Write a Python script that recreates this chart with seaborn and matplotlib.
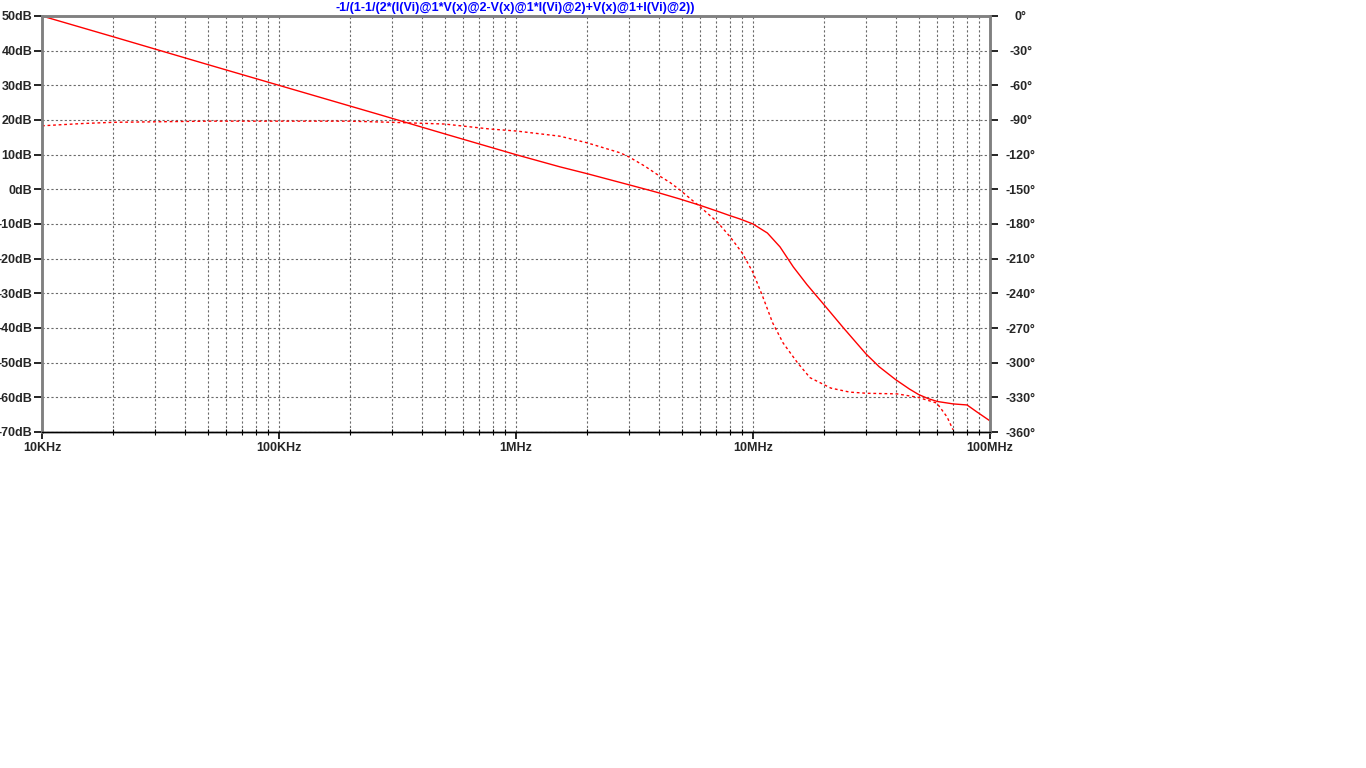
import matplotlib
matplotlib.use("Agg")
import matplotlib.pyplot as plt
import matplotlib.ticker as mticker
import seaborn as sns
import pandas as pd

# magnitude trace (solid)
mag_freq = [1e4, 2e4, 5e4, 1e5, 2e5, 2.67e5, 5e5, 1e6, 1.53e6, 2e6, 3e6, 3.67e6, 4e6, 4.92e6,
            5.97e6, 7e6, 8e6, 8.81e6, 10e6, 11.5e6, 13e6, 14.8e6, 16.9e6, 20e6, 24.1e6,
            30e6, 34.1e6, 40e6, 45.7e6, 50e6, 55e6, 60e6, 70e6, 80e6, 88e6, 100e6]
mag_db = [50, 44, 36, 30, 24, 21.5, 16, 10, 6.5, 4.5, 1.3, -0.3, -1.0, -2.8,
          -4.6, -6.2, -7.6, -8.55, -10, -12.6, -16.6, -22.4, -27.5, -33.4, -40,
          -47.5, -51.2, -54.9, -57.6, -59.2, -60.4, -61.2, -61.9, -62.2, -64.2, -66.8]

# phase trace (dashed)
ph_freq = [1e4, 1.5e4, 2e4, 5e4, 1e5, 2e5, 3e5, 5e5, 7.76e5, 1e6, 1.53e6, 2e6, 2.75e6, 3e6,
           3.5e6, 4e6, 4.46e6, 4.92e6, 5.97e6, 7.05e6, 8e6, 9e6, 10e6, 11e6, 12.1e6, 13.4e6,
           15.4e6, 17.4e6, 21.3e6, 25.6e6, 30.3e6, 40.5e6, 49.7e6, 59.7e6, 65.9e6, 69.8e6]
ph_deg = [-95, -93, -92, -91, -91, -91, -92, -93.5, -97.8, -99.5, -104, -109.8, -118.4, -122,
          -130, -138, -144, -150.6, -165, -178, -191, -205, -222, -243, -265.5, -283,
          -300, -313, -322, -325.5, -326.5, -327, -330, -335, -347, -358]

db_ticks = list(range(-70, 60, 10))
deg_ticks = list(range(-360, 30, 30))
freq_ticks = [1e4, 1e5, 1e6, 1e7, 1e8]
freq_labels = ["10KHz", "100KHz", "1MHz", "10MHz", "100MHz"]
title = "-1/(1-1/(2*(I(Vi)@1*V(x)@2-V(x)@1*I(Vi)@2)+V(x)@1+I(Vi)@2))"

sns.set_style("white")
plt.rcParams["font.family"] = ["Liberation Sans", "DejaVu Sans"]
plt.rcParams["font.weight"] = "bold"

mag = pd.DataFrame({"f": mag_freq, "db": mag_db})
ph = pd.DataFrame({"f": ph_freq, "deg": ph_deg})

fig = plt.figure(figsize=(13.66, 7.68), dpi=100)
ax = fig.add_axes([42 / 1366, 1 - 432 / 768, 948 / 1366, 416 / 768])
ax.set_xscale("log")

sns.lineplot(data=mag, x="f", y="db", ax=ax, color="#ff0000", linewidth=1.0, sort=False)

ax2 = ax.twinx()
sns.lineplot(data=ph, x="f", y="deg", ax=ax2, color="#ff0000", linewidth=1.0,
             linestyle=(0, (2, 2)), sort=False)

# axes setup after plotting so nothing gets reset
ax.set_xlim(1e4, 1e8)
ax.set_ylim(-70, 50)
ax2.set_ylim(-360, 0)

grid_kw = dict(color="#6a6a6a", linestyle=(0, (2, 2)), linewidth=0.8)
ax.set_yticks(db_ticks)
ax.set_yticklabels([f"{v}dB" for v in db_ticks])
ax2.set_yticks(deg_ticks)
ax2.set_yticklabels([f"{v}°" for v in deg_ticks])
ax.set_xticks(freq_ticks)
ax.set_xticklabels(freq_labels)
ax.xaxis.set_minor_locator(mticker.LogLocator(base=10, subs=range(2, 10)))
ax.xaxis.set_minor_formatter(mticker.NullFormatter())
ax.grid(True, which="both", axis="x", **grid_kw)
ax.grid(True, which="major", axis="y", **grid_kw)

for a in (ax, ax2):
    a.set_xlabel("")
    a.set_ylabel("")
    for s in ("left", "right", "top"):
        a.spines[s].set_color("#808080")
        a.spines[s].set_linewidth(1.8)
    a.spines["bottom"].set_color("black")
    a.spines["bottom"].set_linewidth(1.0)

ax.tick_params(axis="y", which="major", length=6, width=1.2, color="black",
               labelsize=9, pad=1, left=True)
ax.tick_params(axis="x", which="major", length=5, width=1.2, color="black",
               labelsize=9, pad=2, bottom=True)
ax.tick_params(axis="x", which="minor", length=4, width=0.8, color="black",
               direction="inout", bottom=True)
ax2.tick_params(axis="y", which="major", length=6, width=1.2, color="black",
                labelsize=9, pad=16, right=True)
for lab in ax2.get_yticklabels():
    lab.set_horizontalalignment("center")

fig.text(515 / 1366, 1 - 8 / 768, title, color="#0000ff", fontsize=9,
         fontweight="bold", ha="center", va="center")

fig.savefig("out.png", dpi=100, facecolor="white")
